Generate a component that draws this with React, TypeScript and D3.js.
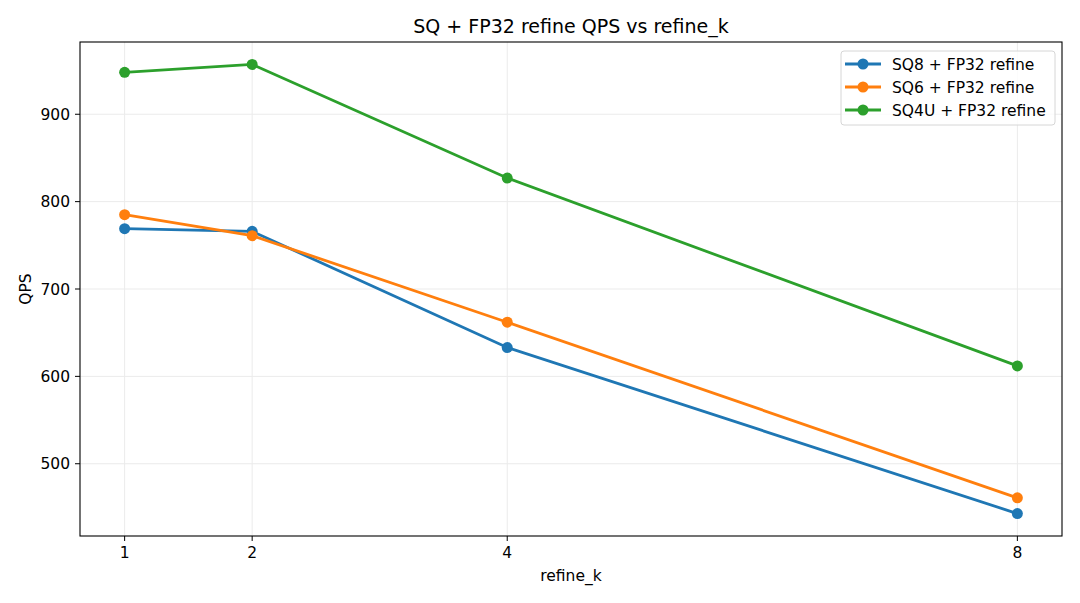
import React from "react";
import * as d3 from "d3";

const refineK = [1, 2, 4, 8];
const sq8 = [769, 766, 633, 443];
const sq6 = [785, 761, 662, 461];
const sq4u = [948, 957, 827, 612];
const seriesNames = ["SQ8 + FP32 refine", "SQ6 + FP32 refine", "SQ4U + FP32 refine"];
const seriesColors = ["#1f77b4", "#ff7f0e", "#2ca02c"];
const yTicks = [500, 600, 700, 800, 900];

const App: React.FC = () => {
  const width = 1080;
  const height = 603;
  const margin = { top: 42, right: 18, bottom: 67, left: 80 };
  const font = "DejaVu Sans, sans-serif";

  const series = [sq8, sq6, sq4u];
  const allVals = series.flat();
  const yMin = d3.min(allVals) ?? 0;
  const yMax = d3.max(allVals) ?? 0;
  const yPad = (yMax - yMin) * 0.05;
  const xPad = (8 - 1) * 0.05;

  const x = d3
    .scaleLinear()
    .domain([1 - xPad, 8 + xPad])
    .range([margin.left, width - margin.right]);

  const y = d3
    .scaleLinear()
    .domain([yMin - yPad, yMax + yPad])
    .range([height - margin.bottom, margin.top]);

  const line = d3
    .line<number>()
    .x((_, i) => x(refineK[i]))
    .y((d) => y(d));

  const plotW = width - margin.left - margin.right;
  const plotH = height - margin.top - margin.bottom;

  // legend box
  const lgW = 214;
  const lgH = 74;
  const lgX = width - margin.right - 7 - lgW;
  const lgY = margin.top + 9;

  return (
    <svg width={width} height={height} style={{ position: "absolute", left: 0, top: 0 }} fontFamily={font}>
      <rect width={width} height={height} fill="white" />
      <text x={margin.left + plotW / 2} y={33} textAnchor="middle" fontSize={19}>
        SQ + FP32 refine QPS vs refine_k
      </text>

      {/* grid */}
      {refineK.map((k) => (
        <line key={`gx${k}`} x1={x(k)} x2={x(k)} y1={margin.top} y2={height - margin.bottom} stroke="#ebebeb" strokeWidth={1} />
      ))}
      {yTicks.map((t) => (
        <line key={`gy${t}`} x1={margin.left} x2={width - margin.right} y1={y(t)} y2={y(t)} stroke="#ebebeb" strokeWidth={1} />
      ))}

      {/* lines */}
      {series.map((s, i) => (
        <g key={i}>
          <path d={line(s) ?? ""} fill="none" stroke={seriesColors[i]} strokeWidth={2.8} />
          {s.map((v, j) => (
            <circle key={j} cx={x(refineK[j])} cy={y(v)} r={5.5} fill={seriesColors[i]} />
          ))}
        </g>
      ))}

      {/* frame */}
      <rect x={margin.left} y={margin.top} width={plotW} height={plotH} fill="none" stroke="black" strokeWidth={1.1} />

      {/* x axis */}
      {refineK.map((k) => (
        <g key={`xt${k}`}>
          <line x1={x(k)} x2={x(k)} y1={height - margin.bottom} y2={height - margin.bottom + 5} stroke="black" />
          <text x={x(k)} y={height - margin.bottom + 22} textAnchor="middle" fontSize={15.5}>
            {k}
          </text>
        </g>
      ))}
      <text x={margin.left + plotW / 2} y={581} textAnchor="middle" fontSize={15.5}>
        refine_k
      </text>

      {/* y axis */}
      {yTicks.map((t) => (
        <g key={`yt${t}`}>
          <line x1={margin.left - 5} x2={margin.left} y1={y(t)} y2={y(t)} stroke="black" />
          <text x={margin.left - 10} y={y(t) + 5.5} textAnchor="end" fontSize={15.5}>
            {t}
          </text>
        </g>
      ))}
      <text transform={`translate(31, ${margin.top + plotH / 2}) rotate(-90)`} textAnchor="middle" fontSize={15.5}>
        QPS
      </text>

      {/* legend */}
      <rect x={lgX} y={lgY} width={lgW} height={lgH} rx={3} fill="white" fillOpacity={0.8} stroke="#d6d6d6" />
      {seriesNames.map((n, i) => (
        <g key={n} transform={`translate(${lgX + 4}, ${lgY + 13 + i * 23})`}>
          <line x1={0} x2={36} y1={0} y2={0} stroke={seriesColors[i]} strokeWidth={2.8} />
          <circle cx={18} cy={0} r={5.5} fill={seriesColors[i]} />
          <text x={47} y={5.5} fontSize={15.5}>
            {n}
          </text>
        </g>
      ))}
    </svg>
  );
};

export default App;
